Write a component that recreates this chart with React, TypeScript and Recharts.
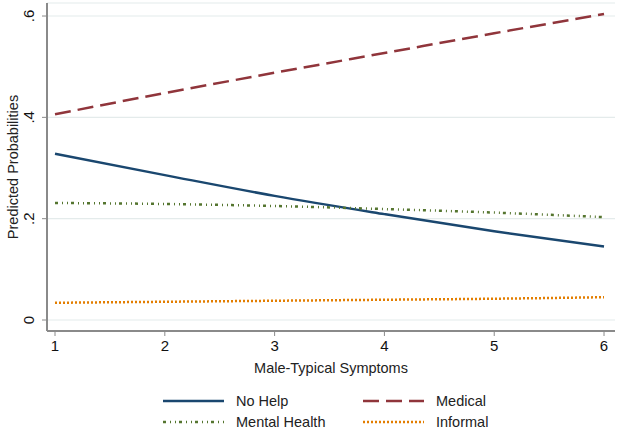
import React from "react";
import { CartesianGrid, Legend, Line, LineChart, XAxis, YAxis } from "recharts";

// values
const symptoms = [1, 2, 3, 4, 5, 6];
const noHelp = [0.328, 0.286, 0.245, 0.209, 0.175, 0.145];
const medical = [0.406, 0.448, 0.488, 0.527, 0.566, 0.604];
const mentalHealth = [0.231, 0.229, 0.225, 0.219, 0.212, 0.203];
const informal = [0.034, 0.036, 0.038, 0.04, 0.042, 0.045];

const yTicks = [0, 0.2, 0.4, 0.6];
const yTickLabels = ["0", ".2", ".4", ".6"];

const data = symptoms.map((s, i) => ({
  s,
  noHelp: noHelp[i],
  medical: medical[i],
  mentalHealth: mentalHealth[i],
  informal: informal[i],
}));

const FONT = "'Liberation Sans', Arial, Helvetica, sans-serif";
const AXIS = "#8a8a8a";

const series = [
  { key: "noHelp", name: "No Help", color: "#1a476f", dash: undefined },
  { key: "medical", name: "Medical", color: "#90353b", dash: "16 7" },
  { key: "mentalHealth", name: "Mental Health", color: "#55752f", dash: "3 4 1 4 1 3" },
  { key: "informal", name: "Informal", color: "#e37e00", dash: "2 2" },
];

const YTick = (props: any) => {
  const { x, y, payload } = props;
  const i = yTicks.indexOf(payload.value);
  const cx = x - 6;
  return (
    <text
      x={cx}
      y={y}
      transform={`rotate(-90, ${cx}, ${y})`}
      textAnchor="middle"
      fontSize={15}
      fontFamily={FONT}
      fill="#111"
    >
      {i >= 0 ? yTickLabels[i] : payload.value}
    </text>
  );
};

// Stata-style two-column legend
const StataLegend = () => {
  const cols = [163, 363];
  const rows = [17, 38];
  return (
    <svg width={618} height={50} style={{ display: "block" }}>
      {series.map((s, i) => {
        const x = cols[i % 2];
        const y = rows[Math.floor(i / 2)];
        return (
          <g key={s.key}>
            <line
              x1={x}
              x2={x + 61}
              y1={y}
              y2={y}
              stroke={s.color}
              strokeWidth={2.5}
              strokeDasharray={s.dash}
            />
            <text
              x={x + 73}
              y={y}
              dy="0.36em"
              fontSize={14.5}
              fontFamily={FONT}
              fill="#222"
            >
              {s.name}
            </text>
          </g>
        );
      })}
    </svg>
  );
};

export default function App() {
  return (
    <div style={{ position: "absolute", left: 0, top: 0, width: 618, height: 434, background: "#fff" }}>
      <LineChart width={618} height={434} data={data} margin={{ top: 3, right: 3, left: 0, bottom: 0 }}>
        <CartesianGrid vertical={false} stroke="#e4ebeb" strokeWidth={1.2} />
        <XAxis
          dataKey="s"
          type="number"
          domain={[0.927, 6.1]}
          ticks={symptoms}
          allowDataOverflow
          height={53}
          stroke={AXIS}
          axisLine={{ stroke: AXIS, strokeWidth: 2 }}
          tickLine={{ stroke: AXIS }}
          tickSize={5}
          tickMargin={4}
          tick={{ fill: "#111", fontSize: 15, fontFamily: FONT }}
          label={{
            value: "Male-Typical Symptoms",
            position: "insideBottom",
            offset: 11,
            fill: "#222",
            fontSize: 14.5,
            fontFamily: FONT,
          }}
        />
        <YAxis
          type="number"
          domain={[-0.0217, 0.6257]}
          ticks={yTicks}
          allowDataOverflow
          width={47}
          axisLine={{ stroke: AXIS, strokeWidth: 2 }}
          tickLine={{ stroke: AXIS }}
          tickSize={5}
          tick={<YTick />}
          label={{
            value: "Predicted Probabilities",
            angle: -90,
            position: "center",
            dx: -11,
            fill: "#222",
            fontSize: 14.5,
            fontFamily: FONT,
          }}
        />
        <Legend
          verticalAlign="bottom"
          height={50}
          content={<StataLegend />}
          wrapperStyle={{ left: 0, width: 618 }}
        />
        {series.map((s) => (
          <Line
            key={s.key}
            type="monotone"
            dataKey={s.key}
            name={s.name}
            stroke={s.color}
            strokeWidth={2.5}
            strokeDasharray={s.dash}
            dot={false}
            activeDot={false}
            isAnimationActive={false}
          />
        ))}
      </LineChart>
    </div>
  );
}
